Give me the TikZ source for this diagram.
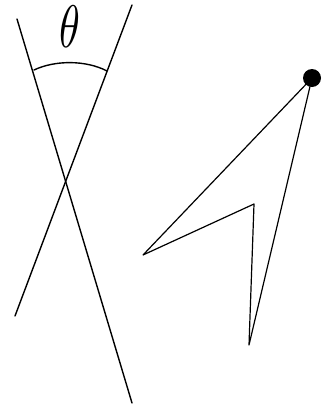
\documentclass[tikz,border=0pt]{standalone}
\usepackage{graphicx}
\begin{document}
\begin{tikzpicture}[x=1pt,y=-1pt,
  ln/.style={line width=1.4pt,line cap=round,line join=round,black}]
\useasboundingbox (0,0) rectangle (328,407);
% crossing lines
\coordinate (a1) at (17,19);
\coordinate (a2) at (132,403);
\coordinate (b1) at (132,5);
\coordinate (b2) at (15,316);
\draw[ln] (a1) -- (a2);
\draw[ln] (b1) -- (b2);
% angle arc
\coordinate (c1) at (34,70);
\coordinate (c2) at (107,71);
\draw[ln] (c1) .. controls (55,60) and (86,60) .. (c2);
% theta label
\node[inner sep=0pt] (theta) at (70,27) {\scalebox{4.2}[6.0]{$\theta$}};
% arrow shape
\coordinate (dot) at (312,78);
\coordinate (left) at (143,255);
\coordinate (inner) at (254,204);
\coordinate (bottom) at (249,345);
\draw[ln,line width=1.2pt] (dot) -- (left) -- (inner) -- (bottom) -- cycle;
\fill (dot) circle (9);
\end{tikzpicture}
\end{document}
